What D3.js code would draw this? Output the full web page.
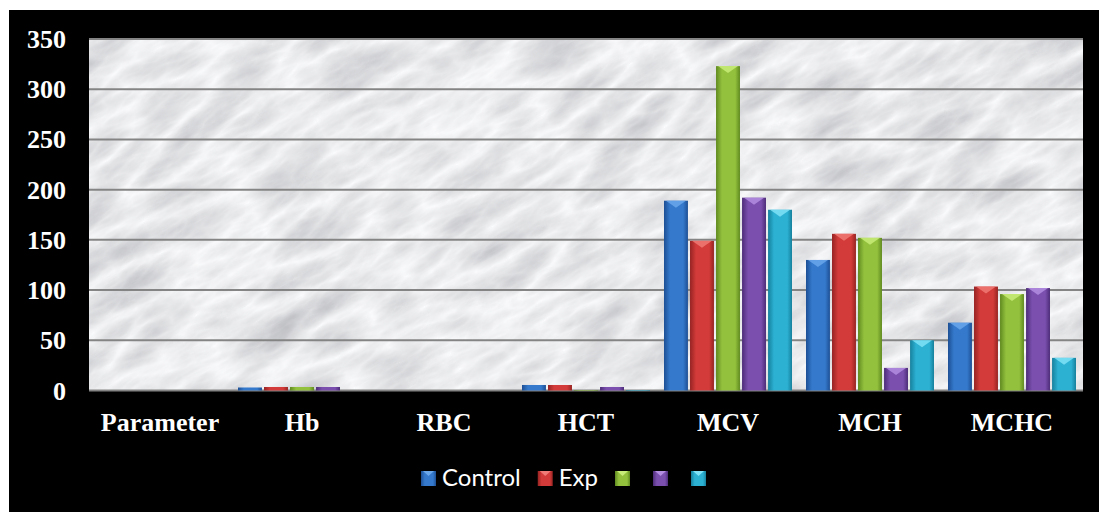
<!DOCTYPE html>
<html>
<head>
<meta charset="utf-8">
<script src="https://cdn.jsdelivr.net/npm/d3@7"></script>
<style>
    html, body { margin: 0; padding: 0; background: #fff; }
    svg { display: block; }
</style>
</head>
<body>
<svg id="chart" width="1099" height="512"></svg>
<script>
// 数据
const categories = ['Parameter', 'Hb', 'RBC', 'HCT', 'MCV', 'MCH', 'MCHC']
const seriesNames = ['Control', 'Exp', '', '', '']
const controlValues = [0, 3, 0, 5.5, 189, 130, 67.5]
const expValues = [0, 3.5, 0, 5.5, 149, 156, 103.5]
const s3Values = [0, 3.5, 0, 0.5, 323, 152, 96]
const s4Values = [0, 3.5, 0, 3.5, 192, 22.5, 102]
const s5Values = [0, 0, 0, 0.5, 180, 50, 32.5]
const yTicks = [0, 50, 100, 150, 200, 250, 300, 350]

const allSeries = [controlValues, expValues, s3Values, s4Values, s5Values]
// 颜色: [暗边, 主色, 高光]
const palette = [
    ['#1d4f94', '#3479cc', '#6aa6ea'],
    ['#962322', '#d23b39', '#f07a76'],
    ['#5f8a1f', '#93c13d', '#c8ec78'],
    ['#4d2c78', '#7a4fae', '#b38de0'],
    ['#16809c', '#2cb1d3', '#7fe2f6'],
]

const svg = d3.select('#chart')
const defs = svg.append('defs')

const plot = { left: 89, right: 1083, top: 39, bottom: 390.5 }

// 黑色背景
svg.append('rect')
    .attr('x', 9).attr('y', 10)
    .attr('width', 1090).attr('height', 502)
    .attr('fill', '#000')

// 大理石纹理
const marble = defs.append('filter')
    .attr('id', 'marble')
    .attr('filterUnits', 'userSpaceOnUse')
    .attr('x', -400).attr('y', -400)
    .attr('width', 2000).attr('height', 1400)
marble.append('feTurbulence')
    .attr('type', 'turbulence')
    .attr('baseFrequency', '0.01 0.028')
    .attr('numOctaves', 5)
    .attr('seed', 11)
marble.append('feColorMatrix')
    .attr('type', 'matrix')
    .attr('values', '-0.5 0 0 0 0.97  -0.5 0 0 0 0.975  -0.48 0 0 0 0.985  0 0 0 0 1')

defs.append('clipPath').attr('id', 'plotClip')
    .append('rect')
    .attr('x', plot.left).attr('y', plot.top)
    .attr('width', plot.right - plot.left).attr('height', plot.bottom - plot.top)

svg.append('g')
    .attr('clip-path', 'url(#plotClip)')
    .append('g')
    .attr('transform', 'rotate(-30 586 215)')
    .append('rect')
    .attr('x', -300).attr('y', -300)
    .attr('width', 1800).attr('height', 1100)
    .attr('filter', 'url(#marble)')

// 比例尺
const x0 = d3.scaleBand().domain(categories).range([plot.left, plot.right])
const x1 = d3.scaleBand().domain(d3.range(allSeries.length))
    .range([7, x0.bandwidth() - 7])
    .paddingInner(0.08)
const y = d3.scaleLinear().domain([0, 350]).range([plot.bottom, plot.top])

// 网格线
svg.append('g').selectAll('line')
    .data(yTicks)
    .join('line')
    .attr('x1', plot.left).attr('x2', plot.right)
    .attr('y1', d => y(d)).attr('y2', d => y(d))
    .attr('stroke', '#848484')
    .attr('stroke-width', 2)

// 柱子渐变
palette.forEach((c, i) => {
    const g = defs.append('linearGradient')
        .attr('id', `barGrad${i}`)
        .attr('x1', '0%').attr('x2', '100%')
        .attr('y1', '0%').attr('y2', '0%')
    g.append('stop').attr('offset', '0%').attr('stop-color', c[0])
    g.append('stop').attr('offset', '25%').attr('stop-color', c[1])
    g.append('stop').attr('offset', '45%').attr('stop-color', c[1])
    g.append('stop').attr('offset', '80%').attr('stop-color', c[1])
    g.append('stop').attr('offset', '100%').attr('stop-color', c[0])
})

const bars = svg.append('g')
allSeries.forEach((vals, si) => {
    const g = bars.append('g')
    const data = vals.map((v, ci) => ({ cat: categories[ci], v })).filter(d => d.v > 0)

    g.selectAll('rect')
        .data(data)
        .join('rect')
        .attr('x', d => x0(d.cat) + x1(si))
        .attr('y', d => y(d.v))
        .attr('width', x1.bandwidth())
        .attr('height', d => y(0) - y(d.v))
        .attr('fill', `url(#barGrad${si})`)

    // 顶部高光
    g.selectAll('path')
        .data(data.filter(d => y(0) - y(d.v) > 8))
        .join('path')
        .attr('d', (d) => {
            const bx = x0(d.cat) + x1(si)
            const bw = x1.bandwidth()
            const top = y(d.v)
            return `M${bx + 2},${top} L${bx + bw - 2},${top} L${bx + bw / 2},${top + 7} Z`
        })
        .attr('fill', palette[si][2])
        .attr('opacity', 0.85)
})

// 坐标轴文字
svg.append('g').selectAll('text')
    .data(yTicks)
    .join('text')
    .attr('x', 66)
    .attr('y', d => y(d) + 9)
    .attr('text-anchor', 'end')
    .attr('fill', '#fff')
    .attr('font-family', '"Liberation Serif", "Times New Roman", serif')
    .attr('font-weight', 'bold')
    .attr('font-size', 26)
    .text(d => d)

svg.append('g').selectAll('text')
    .data(categories)
    .join('text')
    .attr('x', d => x0(d) + x0.bandwidth() / 2)
    .attr('y', 431)
    .attr('text-anchor', 'middle')
    .attr('fill', '#fff')
    .attr('font-family', '"Liberation Serif", "Times New Roman", serif')
    .attr('font-weight', 'bold')
    .attr('font-size', 26)
    .text(d => d)

// 图例
const legend = svg.append('g')
let lx = 421
seriesNames.forEach((name, i) => {
    const item = legend.append('g')
    item.append('rect')
        .attr('x', lx).attr('y', 471)
        .attr('width', 15).attr('height', 15)
        .attr('fill', `url(#barGrad${i})`)
    item.append('path')
        .attr('d', `M${lx + 2},471 L${lx + 13},471 L${lx + 7.5},476 Z`)
        .attr('fill', palette[i][2])
    const t = item.append('text')
        .attr('x', lx + 21)
        .attr('y', 486)
        .attr('fill', '#fff')
        .attr('font-family', 'Lato, "Open Sans", sans-serif')
        .attr('font-size', 24)
        .text(name)
    const w = name ? t.node().getComputedTextLength() : 0
    lx += 15 + 7 + w + 16
})
</script>
</body>
</html>
